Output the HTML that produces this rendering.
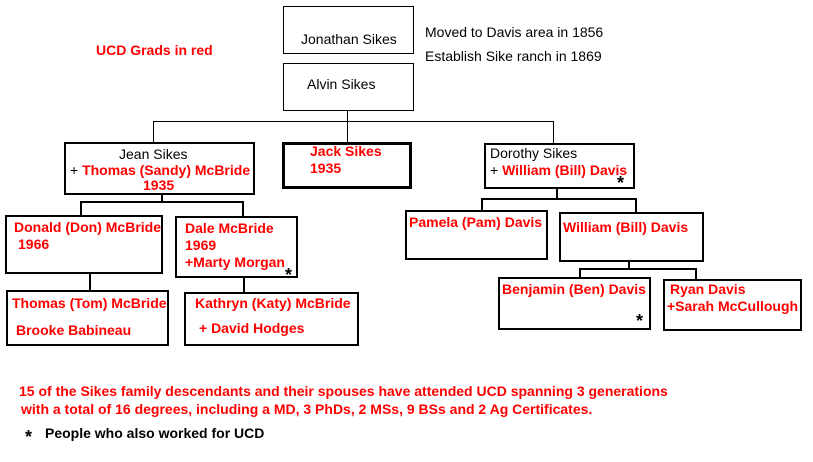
<!DOCTYPE html>
<html><head><style>
body{margin:0;width:813px;height:462px;background:#fff;position:relative;overflow:hidden;font-family:"Liberation Sans",Arial,sans-serif;}
.b{position:absolute;border:2px solid #000;box-sizing:border-box;background:#fff;}
.l{position:absolute;background:#000;}
.t{position:absolute;font-size:14px;white-space:nowrap;line-height:16px;}
.r{color:#f00;font-weight:bold;}
.k{color:#000;}
.s{position:absolute;font-size:18px;font-weight:bold;line-height:18px;}
</style></head><body>
<div class="l" style="left:347px;top:111px;width:1px;height:31px"></div>
<div class="l" style="left:153px;top:121px;width:401px;height:1px"></div>
<div class="l" style="left:153px;top:121px;width:1px;height:22px"></div>
<div class="l" style="left:553px;top:121px;width:1px;height:22px"></div>
<div class="l" style="left:161px;top:195px;width:2px;height:8px"></div>
<div class="l" style="left:80px;top:201px;width:164px;height:2px"></div>
<div class="l" style="left:80px;top:201px;width:2px;height:15px"></div>
<div class="l" style="left:242px;top:201px;width:2px;height:16px"></div>
<div class="l" style="left:89px;top:273px;width:2px;height:18px"></div>
<div class="l" style="left:243px;top:277px;width:2px;height:16px"></div>
<div class="l" style="left:556px;top:188px;width:2px;height:12px"></div>
<div class="l" style="left:482px;top:198px;width:155px;height:2px"></div>
<div class="l" style="left:481px;top:198px;width:2px;height:13px"></div>
<div class="l" style="left:635px;top:198px;width:2px;height:15px"></div>
<div class="l" style="left:628px;top:260px;width:2px;height:9px"></div>
<div class="l" style="left:579px;top:268px;width:118px;height:2px"></div>
<div class="l" style="left:579px;top:268px;width:2px;height:10px"></div>
<div class="l" style="left:695px;top:268px;width:2px;height:12px"></div>
<div class="b" style="left:283px;top:6px;width:131px;height:48px;border-width:1px"></div>
<div class="b" style="left:283px;top:63px;width:131px;height:48px;border-width:1px"></div>
<div class="b" style="left:64px;top:142px;width:191px;height:53px"></div>
<div class="b" style="left:282px;top:142px;width:130px;height:47px;border-width:3px"></div>
<div class="b" style="left:484px;top:143px;width:151px;height:46px"></div>
<div class="b" style="left:5px;top:215px;width:158px;height:59px"></div>
<div class="b" style="left:175px;top:216px;width:123px;height:62px"></div>
<div class="b" style="left:6px;top:290px;width:163px;height:56px"></div>
<div class="b" style="left:184px;top:292px;width:175px;height:54px"></div>
<div class="b" style="left:405px;top:210px;width:143px;height:50px"></div>
<div class="b" style="left:559px;top:212px;width:145px;height:50px"></div>
<div class="b" style="left:498px;top:277px;width:153px;height:53px"></div>
<div class="b" style="left:663px;top:279px;width:139px;height:52px"></div>
<div class="t k" style="left:301px;top:31px">Jonathan Sikes</div>
<div class="t k" style="left:307px;top:76px">Alvin Sikes</div>
<div class="t k" style="left:425px;top:24px">Moved to Davis area in 1856</div>
<div class="t k" style="left:425px;top:48px">Establish Sike ranch in 1869</div>
<div class="t r" style="left:96px;top:42px">UCD Grads in red</div>
<div class="t k" style="left:119px;top:146px">Jean Sikes</div>
<div class="t" style="left:70px;top:162px"><span class="k">+ </span><span class="r">Thomas (Sandy) McBride</span></div>
<div class="t r" style="left:143px;top:177px">1935</div>
<div class="t r" style="left:310px;top:143px">Jack Sikes</div>
<div class="t r" style="left:310px;top:160px">1935</div>
<div class="t k" style="left:490px;top:145px">Dorothy Sikes</div>
<div class="t" style="left:490px;top:162px"><span class="k">+ </span><span class="r">William (Bill) Davis</span></div>
<div class="s" style="left:617px;top:174px">*</div>
<div class="t r" style="left:14px;top:219px">Donald (Don) McBride</div>
<div class="t r" style="left:18px;top:236px">1966</div>
<div class="t r" style="left:185px;top:220px">Dale McBride</div>
<div class="t r" style="left:185px;top:237px">1969</div>
<div class="t r" style="left:185px;top:254px">+Marty Morgan</div>
<div class="s" style="left:285px;top:266px">*</div>
<div class="t r" style="left:12px;top:295px">Thomas (Tom) McBride</div>
<div class="t r" style="left:16px;top:322px">Brooke Babineau</div>
<div class="t r" style="left:195px;top:295px">Kathryn (Katy) McBride</div>
<div class="t r" style="left:199px;top:320px">+ David Hodges</div>
<div class="t r" style="left:409px;top:214px">Pamela (Pam) Davis</div>
<div class="t r" style="left:563px;top:219px">William (Bill) Davis</div>
<div class="t r" style="left:502px;top:281px">Benjamin (Ben) Davis</div>
<div class="s" style="left:636px;top:312px">*</div>
<div class="t r" style="left:670px;top:281px">Ryan Davis</div>
<div class="t r" style="left:667px;top:298px">+Sarah McCullough</div>
<div class="t r" style="left:19px;top:383px">15 of the Sikes family descendants and their spouses have attended UCD spanning 3 generations</div>
<div class="t r" style="left:21px;top:401px">with a total of 16 degrees, including a MD, 3 PhDs, 2 MSs, 9 BSs and 2 Ag Certificates.</div>
<div class="s" style="left:25px;top:428px">*</div>
<div class="t k" style="left:45px;top:425px;font-weight:bold;font-size:14px">People who also worked for UCD</div>
</body></html>
